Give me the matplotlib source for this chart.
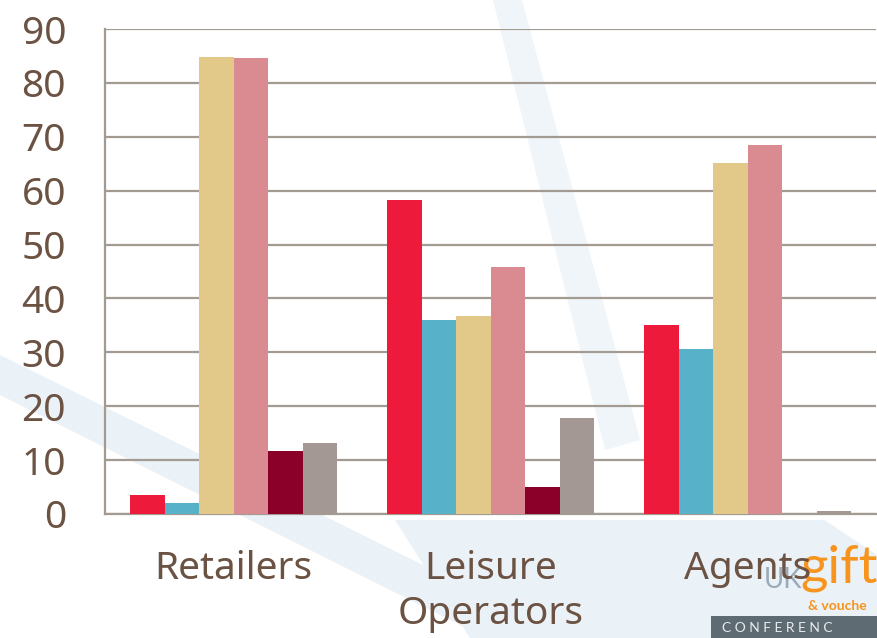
import matplotlib.pyplot as plt
import numpy as np
from matplotlib.patches import Polygon, Rectangle

# Data
categories = ["Retailers", "Leisure\nOperators", "Agents"]
series_1 = [3.5, 58.2, 35.0]
series_2 = [2.0, 36.0, 30.7]
series_3 = [84.8, 36.7, 65.1]
series_4 = [84.6, 45.8, 68.4]
series_5 = [11.6, 5.0, 0.0]
series_6 = [13.2, 17.9, 0.5]
yticks = [0, 10, 20, 30, 40, 50, 60, 70, 80, 90]

colors = ["#EE1A3C", "#56B1C9", "#E2C98A", "#DA8B91", "#8B0029", "#A39893"]
brown = "#6B5242"
grid_c = "#A39A92"

W, H = 877, 638
fig = plt.figure(figsize=(W / 100, H / 100), dpi=100)
fig.patch.set_facecolor("white")

# background layer with the faint slide shapes (pixel coords, y from top)
bg = fig.add_axes([0, 0, 1, 1], zorder=-1)
bg.set_xlim(0, W)
bg.set_ylim(H, 0)
bg.axis("off")
light = "#EAF1F7"
bg.add_patch(Polygon([(395, 520), (877, 520), (877, 638), (470, 638)], facecolor=light, edgecolor="none"))
bg.add_patch(Polygon([(0, 355), (570, 638), (486, 638), (0, 395)], facecolor=light, edgecolor="none"))
bg.add_patch(Polygon([(493, 0), (522, 0), (640, 440), (605, 450)], facecolor=light, edgecolor="none", alpha=0.7))
bg.add_patch(Polygon([(820, 517), (877, 517), (877, 555)], facecolor="white", edgecolor="none"))
# conference logo in the corner
bg.text(764, 580, "UK", fontsize=20, color="#9AAAB8", family="Lato", va="center", ha="left")
bg.text(800, 568, "gift", fontsize=38, color="#F7941D", family="Lato", va="center", ha="left")
bg.text(808, 606, "& vouche", fontsize=10, color="#F7941D", family="Lato",
        fontweight="bold", va="center", ha="left")
bg.add_patch(Rectangle((711, 616), 166, 22, facecolor="#5F6B73", edgecolor="none"))
bg.text(722, 628, "C O N F E R E N C", fontsize=10, color="#E8ECEF", family="Lato",
        va="center", ha="left")

ax = fig.add_axes([105 / W, (H - 514) / H, 771 / W, 485 / H])
ax.set_facecolor("none")

all_series = [series_1, series_2, series_3, series_4, series_5, series_6]
x = np.arange(len(categories))
bw = 207 / 257 / 6
for i, vals in enumerate(all_series):
    ax.bar(x - 3 * bw + bw * (i + 0.5), vals, width=bw, color=colors[i],
           edgecolor="none", zorder=3)

ax.set_xlim(-0.5, len(categories) - 0.5)
ax.set_ylim(0, 90)
ax.set_yticks(yticks)
ax.yaxis.grid(True, color=grid_c, linewidth=1.6, zorder=1)
ax.set_axisbelow(True)
for s in ["top", "right"]:
    ax.spines[s].set_visible(False)
for s in ["left", "bottom"]:
    ax.spines[s].set_color(grid_c)
    ax.spines[s].set_linewidth(1.6)
ax.tick_params(axis="y", length=0, pad=28, labelsize=28, labelcolor=brown)
ax.tick_params(axis="x", length=0, pad=26, labelsize=28, labelcolor=brown)
ax.set_xticks(x)
ax.set_xticklabels(categories, linespacing=1.25)
for lab in ax.get_xticklabels() + ax.get_yticklabels():
    lab.set_fontfamily("Noto Sans")

fig.savefig("out.png", dpi=100)
